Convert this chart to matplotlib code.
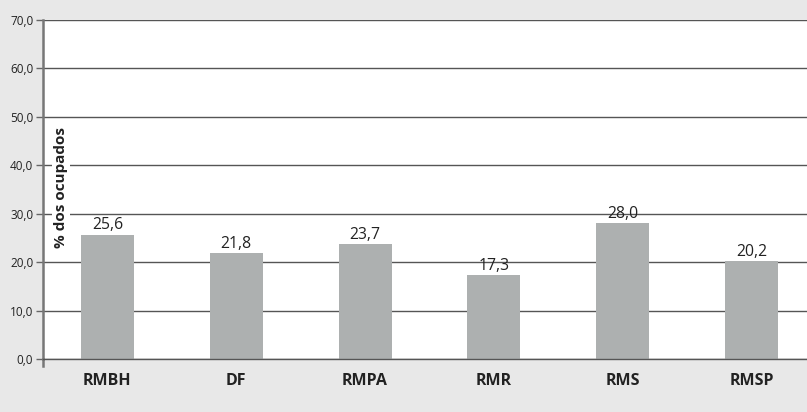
import matplotlib
matplotlib.use("Agg")
import matplotlib.pyplot as plt
from matplotlib.lines import Line2D

categories = ["RMBH", "DF", "RMPA", "RMR", "RMS", "RMSP"]
values = [25.6, 21.8, 23.7, 17.3, 28.0, 20.2]
value_labels = ["25,6", "21,8", "23,7", "17,3", "28,0", "20,2"]
yticks = [0, 10, 20, 30, 40, 50, 60, 70]
ytick_labels = ["0,0", "10,0", "20,0", "30,0", "40,0", "50,0", "60,0", "70,0"]
ylabel = "% dos ocupados"

plt.rcParams['font.family'] = ['Open Sans', 'DejaVu Sans']

W, H = 807, 412
left_px, top_px, bottom_px = 43, 20, 359
slot = 128.8
fig = plt.figure(figsize=(W/100, H/100), dpi=100, facecolor="#e8e8e8")
ax = fig.add_axes([left_px/W, 1-bottom_px/H, 6*slot/W, (bottom_px-top_px)/H])
ax.set_facecolor("white")

x = list(range(len(categories)))
ax.bar(x, values, width=53/slot, color="#adb0b0", zorder=2)
for xi, v, lab in zip(x, values, value_labels):
    ax.text(xi, v + 1.15, lab, ha="center", va="baseline", fontsize=11.3, color="#222222", zorder=3)

ax.set_xlim(-0.5, len(categories) - 0.5)
ax.set_ylim(0, 70)
ax.set_yticks(yticks)
ax.set_yticklabels(ytick_labels, fontsize=8.5, color="#222222")
ax.set_xticks(x)
ax.set_xticklabels(categories, fontsize=11.5, fontweight="bold", color="#222222")
ax.tick_params(axis="x", length=0, pad=10)
ax.tick_params(axis="y", length=5, width=1, color="#666666", pad=2)

ax.grid(axis="y", color="#555555", linewidth=1, zorder=1)
ax.set_axisbelow(True)
for s in ["top", "right"]:
    ax.spines[s].set_visible(False)
ax.spines["left"].set_color("#777777")
ax.spines["left"].set_linewidth(1.8)
ax.spines["bottom"].set_color("#555555")
ax.spines["bottom"].set_linewidth(1)

# small extension of the left axis below zero
ax.add_line(Line2D([-0.5, -0.5], [0, -1.4], color="#777777", linewidth=1.8, clip_on=False))

ax.text(-0.36, 35.5, ylabel, rotation=90, ha="center", va="center", fontsize=11,
        fontweight="bold", color="#222222", zorder=4,
        bbox=dict(facecolor="white", edgecolor="none", pad=1.5))

fig.savefig("out.png", dpi=100, facecolor=fig.get_facecolor())
